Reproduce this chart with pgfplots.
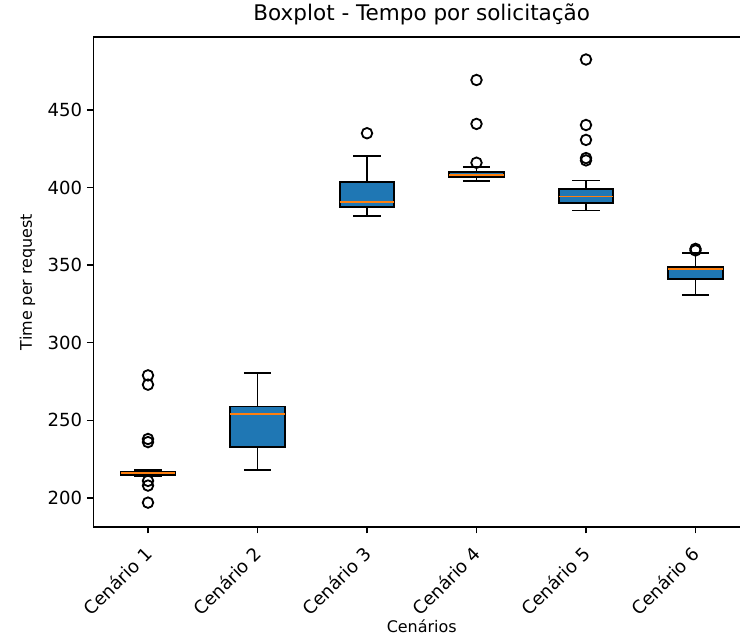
\documentclass[border=0pt]{standalone}
\usepackage{fontspec}
\setmainfont{DejaVu Sans}
\usepackage{pgfplots}
\pgfplotsset{compat=1.18}

\definecolor{mplblue}{HTML}{1F77B4}
\definecolor{mplorange}{HTML}{FF7F0E}

% #1 position, #2 lower whisker, #3 Q1, #4 median, #5 Q3, #6 upper whisker
\newcommand\mplbox[6]{%
  \pgfmathsetmacro\xl{#1-0.25}\pgfmathsetmacro\xr{#1+0.25}%
  \pgfmathsetmacro\cl{#1-0.125}\pgfmathsetmacro\cr{#1+0.125}%
  \addplot[black, line width=1.3pt] coordinates {(#1,#2) (#1,#3)};
  \addplot[black, line width=1.3pt] coordinates {(#1,#5) (#1,#6)};
  \addplot[black, line width=1.3pt] coordinates {(\cl,#2) (\cr,#2)};
  \addplot[black, line width=1.3pt] coordinates {(\cl,#6) (\cr,#6)};
  \addplot[fill=mplblue, draw=black, line width=1.3pt]
    coordinates {(\xl,#3) (\xr,#3) (\xr,#5) (\xl,#5)} -- cycle;
  \addplot[mplorange, line width=1.3pt] coordinates {(\xl,#4) (\xr,#4)};
}

\begin{document}
\begin{tikzpicture}
\begin{axis}[
  scale only axis,
  width=473.04pt, height=352.8pt,
  xmin=0.5, xmax=6.5,
  ymin=181.3, ymax=497,
  xtick={1,2,3,4,5,6},
  xticklabels={Cenário 1,Cenário 2,Cenário 3,Cenário 4,Cenário 5,Cenário 6},
  xticklabel style={rotate=45, anchor=north east, xshift=-5pt, font=\fontsize{13}{15}\selectfont},
  ytick={200,250,300,350,400,450},
  yticklabel style={font=\fontsize{13}{15}\selectfont},
  /pgf/number format/assume math mode=true,
  tick align=outside,
  xtick pos=bottom, ytick pos=left,
  major tick length=4.5pt,
  tick style={black, line width=1pt},
  axis line style={line width=1pt},
  title={Boxplot - Tempo por solicitação},
  title style={font=\fontsize{15.5}{18}\selectfont, at={(0.5,1)}, anchor=base, yshift=6.2pt},
  xlabel={Cenários},
  ylabel={Time per request},
  label style={font=\fontsize{11.5}{14}\selectfont},
  xlabel style={at={(axis description cs:0.5,0)}, anchor=base, yshift=-76pt},
  ylabel style={yshift=2pt},
]

% position, lower whisker, Q1, median, Q3, upper whisker
\mplbox{1}{214}{215}{216}{217}{218}
\mplbox{2}{218.2}{232.6}{254}{259}{280.5}
\mplbox{3}{381.7}{387.3}{390.6}{403.4}{420.4}
\mplbox{4}{404.3}{406.6}{408.1}{409.9}{413.5}
\mplbox{5}{385.2}{390.3}{394.2}{399.1}{404.5}
\mplbox{6}{330.9}{341}{347.6}{348.7}{357.7}

% outliers
\addplot[only marks, mark=o, mark size=3.8pt, mark options={draw=black, line width=1.3pt}]
  coordinates {
    (1,279) (1,273) (1,238) (1,236) (1,211) (1,208) (1,197)
    (3,435)
    (4,469.3) (4,441) (4,416)
    (5,482.5) (5,440.3) (5,430.7) (5,419) (5,417.5)
    (6,360.5) (6,359.5)
  };

\end{axis}
\pgfresetboundingbox
\useasboundingbox (current axis.south west) ++(-67.14pt,-82.08pt) rectangle ++(532.8pt,461.52pt);
\end{tikzpicture}
\end{document}
